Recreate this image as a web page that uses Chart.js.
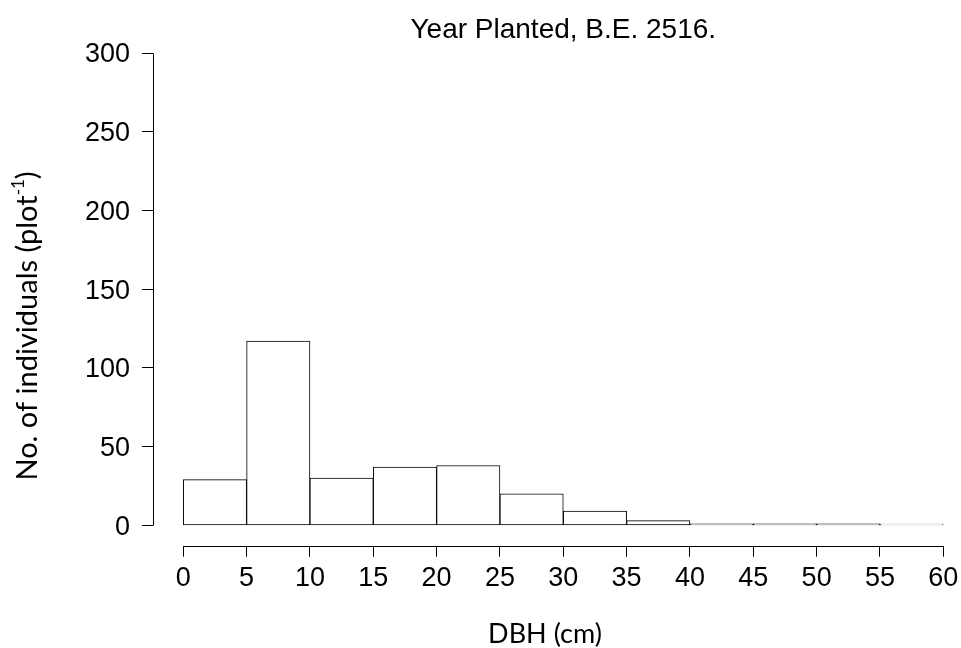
<!DOCTYPE html>
<html>
<head>
<meta charset="utf-8">
<script src="https://cdn.jsdelivr.net/npm/chart.js@4/dist/chart.umd.min.js"></script>
<style>
  html, body { margin: 0; padding: 0; background: #fff; }
</style>
</head>
<body>
<canvas id="chart" width="961" height="648"></canvas>
<script>
// histogram bins (DBH, cm) and counts per plot
const binStarts = [0, 5, 10, 15, 20, 25, 30, 35, 40, 45, 50, 55];
const binWidth = 5;
const counts = [29, 117, 30, 37, 38, 20, 9, 3, 1, 1, 1, 0.8];
const xTicks = [0, 5, 10, 15, 20, 25, 30, 35, 40, 45, 50, 55, 60];
const yTicks = [0, 50, 100, 150, 200, 250, 300];

const titleText = "Year Planted, B.E. 2516.";
const xTitle = "DBH (cm)";
const yTitle = "No. of individuals (plot";
const yTitleSup = "-1";

const tickFont = { family: "'Liberation Sans', Arial, sans-serif", size: 27 };
const labelFamily = "Lato, 'Open Sans', sans-serif";

// axes are drawn apart from the bars, like base R graphics
const axesPlugin = {
  id: "axesPlugin",
  afterDraw(chart) {
    const ctx = chart.ctx;
    const x = chart.scales.x, y = chart.scales.y;
    const area = chart.chartArea;
    ctx.save();
    ctx.strokeStyle = "#000";
    ctx.lineWidth = 1;
    // y axis line
    const ax = Math.round(area.left) + 0.5;
    ctx.beginPath();
    ctx.moveTo(ax, Math.round(y.getPixelForValue(yTicks[yTicks.length - 1])) + 0.5);
    ctx.lineTo(ax, Math.round(y.getPixelForValue(yTicks[0])) + 0.5);
    ctx.stroke();
    // x axis line
    const ay = Math.round(area.bottom) + 0.5;
    ctx.beginPath();
    ctx.moveTo(Math.round(x.getPixelForValue(xTicks[0])) + 0.5, ay);
    ctx.lineTo(Math.round(x.getPixelForValue(xTicks[xTicks.length - 1])) + 0.5, ay);
    ctx.stroke();

    ctx.fillStyle = "#000";
    // main title
    ctx.font = "28px " + tickFont.family;
    ctx.textAlign = "center";
    ctx.textBaseline = "middle";
    ctx.fillText(titleText, (x.getPixelForValue(0) + x.getPixelForValue(60)) / 2, 30);

    // x title
    ctx.font = "27px " + labelFamily;
    ctx.fillText(xTitle, 545, 634);

    // y title with superscript
    ctx.translate(27, 326);
    ctx.rotate(-Math.PI / 2);
    ctx.font = "29px " + labelFamily;
    const w1 = ctx.measureText(yTitle).width;
    ctx.font = "17px " + labelFamily;
    const w2 = ctx.measureText(yTitleSup).width;
    ctx.font = "29px " + labelFamily;
    const w3 = ctx.measureText(")").width;
    let sx = -(w1 + w2 + w3) / 2;
    ctx.textAlign = "left";
    ctx.textBaseline = "alphabetic";
    ctx.fillText(yTitle, sx, 10);
    ctx.font = "17px " + labelFamily;
    ctx.fillText(yTitleSup, sx + w1, -3);
    ctx.font = "29px " + labelFamily;
    ctx.fillText(")", sx + w1 + w2, 10);
    ctx.restore();
  }
};

new Chart(document.getElementById("chart"), {
  type: "bar",
  data: {
    datasets: [{
      data: binStarts.map((s, i) => ({ x: s + binWidth / 2, y: counts[i] })),
      backgroundColor: "#fff",
      borderColor: "#000",
      borderWidth: 1,
      borderSkipped: false,
      barPercentage: 1,
      categoryPercentage: 1
    }]
  },
  options: {
    responsive: false,
    animation: false,
    devicePixelRatio: 1,
    layout: { padding: { top: 53, right: 17.7, bottom: 0, left: 0 } },
    plugins: { legend: { display: false }, tooltip: { enabled: false }, title: { display: false } },
    scales: {
      x: {
        type: "linear",
        min: -2.39,
        max: 60,
        offset: false,
        afterBuildTicks: s => { s.ticks = xTicks.map(v => ({ value: v })); },
        afterFit: s => { s.height = 102.3; s.paddingLeft = 0; s.paddingRight = 0; },
        grid: { offset: false, drawOnChartArea: false, drawTicks: true, tickLength: 11, color: "#000", lineWidth: 1 },
        border: { display: false },
        ticks: { color: "#000", font: tickFont, padding: 6, maxRotation: 0, autoSkip: false }
      },
      y: {
        min: -12.96,
        max: 300,
        afterBuildTicks: s => { s.ticks = yTicks.map(v => ({ value: v })); },
        afterFit: s => { s.width = 153; s.paddingTop = 0; s.paddingBottom = 0; },
        grid: { drawOnChartArea: false, drawTicks: true, tickLength: 11, color: "#000", lineWidth: 1 },
        border: { display: false },
        ticks: { color: "#000", font: tickFont, padding: 12, labelOffset: 2 }
      }
    }
  },
  plugins: [axesPlugin]
});
</script>
</body>
</html>
